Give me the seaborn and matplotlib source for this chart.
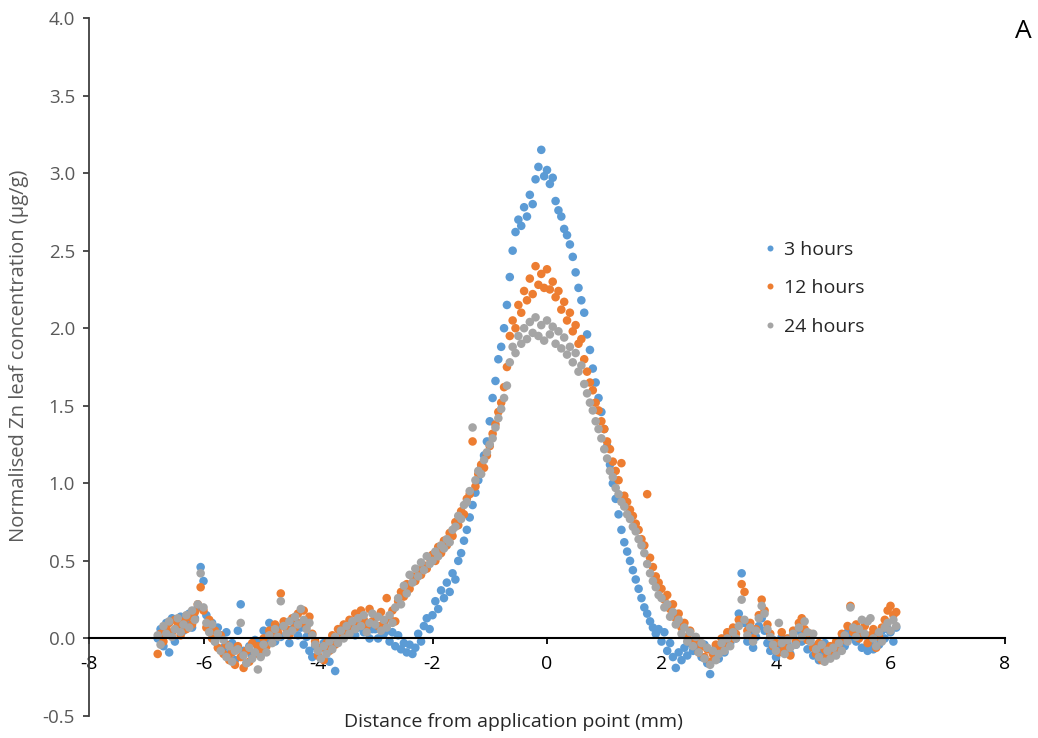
import matplotlib
matplotlib.use("Agg")
import matplotlib.pyplot as plt
import seaborn as sns
import pandas as pd

# ---------------- data ----------------
distance_mm = [
    -6.80, -6.75, -6.70, -6.65, -6.60, -6.55, -6.50, -6.45, -6.40, -6.35, -6.30, -6.25, -6.20, -6.15, -6.10, -6.05,
    -6.00, -5.95, -5.90, -5.85, -5.80, -5.75, -5.70, -5.65, -5.60, -5.55, -5.50, -5.45, -5.40, -5.35, -5.30, -5.25, -5.20, -5.15, -5.10, -5.05,
    -5.00, -4.95, -4.90, -4.85, -4.80, -4.75, -4.70, -4.65, -4.60, -4.55, -4.50, -4.45, -4.40, -4.35, -4.30, -4.25, -4.20, -4.15, -4.10, -4.05,
    -4.00, -3.95, -3.90, -3.85, -3.80, -3.75, -3.70, -3.65, -3.60, -3.55, -3.50, -3.45, -3.40, -3.35, -3.30, -3.25, -3.20, -3.15, -3.10, -3.05,
    -3.00, -2.95, -2.90, -2.85, -2.80, -2.75, -2.70, -2.65, -2.60, -2.55, -2.50, -2.45, -2.40, -2.35, -2.30, -2.25, -2.20, -2.15, -2.10, -2.05,
    -2.00, -1.95, -1.90, -1.85, -1.80, -1.75, -1.70, -1.65, -1.60, -1.55, -1.50, -1.45, -1.40, -1.35, -1.30, -1.25, -1.20, -1.15, -1.10, -1.05,
    -1.00, -0.95, -0.90, -0.85, -0.80, -0.75, -0.70, -0.65, -0.60, -0.55, -0.50, -0.45, -0.40, -0.35, -0.30, -0.25, -0.20, -0.15, -0.10, -0.05,
    0.00, 0.05, 0.10, 0.15, 0.20, 0.25, 0.30, 0.35, 0.40, 0.45, 0.50, 0.55, 0.60, 0.65, 0.70, 0.75, 0.80, 0.85, 0.90, 0.95,
    1.00, 1.05, 1.10, 1.15, 1.20, 1.25, 1.30, 1.35, 1.40, 1.45, 1.50, 1.55, 1.60, 1.65, 1.70, 1.75, 1.80, 1.85, 1.90, 1.95,
    2.00, 2.05, 2.10, 2.15, 2.20, 2.25, 2.30, 2.35, 2.40, 2.45, 2.50, 2.55, 2.60, 2.65, 2.70, 2.75, 2.80, 2.85, 2.90, 2.95,
    3.00, 3.05, 3.10, 3.15, 3.20, 3.25, 3.30, 3.35, 3.40, 3.45, 3.50, 3.55, 3.60, 3.65, 3.70, 3.75, 3.80, 3.85, 3.90, 3.95,
    4.00, 4.05, 4.10, 4.15, 4.20, 4.25, 4.30, 4.35, 4.40, 4.45, 4.50, 4.55, 4.60, 4.65, 4.70, 4.75, 4.80, 4.85, 4.90, 4.95,
    5.00, 5.05, 5.10, 5.15, 5.20, 5.25, 5.30, 5.35, 5.40, 5.45, 5.50, 5.55, 5.60, 5.65, 5.70, 5.75, 5.80, 5.85, 5.90, 5.95,
    6.00, 6.05, 6.10,
]

zn_3h = [
    0.00, 0.06, -0.05, 0.10, -0.09, 0.13, -0.02, 0.08, 0.14, 0.05, 0.10, 0.16, 0.07, 0.13, 0.20, 0.46,
    0.37, 0.15, 0.06, 0.10, -0.02, 0.07, 0.02, -0.06, 0.04, -0.10, -0.03, -0.14, 0.05, 0.22, -0.08, -0.16, -0.05, -0.11, -0.01, -0.07,
    -0.03, 0.05, 0.00, 0.10, 0.04, -0.02, 0.07, 0.01, 0.09, 0.03, -0.03, 0.06, 0.11, 0.02, 0.07, -0.04, 0.01, -0.08, -0.12, -0.05,
    -0.07, -0.13, -0.03, -0.09, -0.15, -0.04, -0.21, 0.01, 0.06, 0.02, 0.08, 0.04, 0.10, 0.02, 0.07, 0.12, 0.04, 0.09, 0.00, 0.06,
    0.06, 0.00, 0.08, 0.03, 0.05, -0.02, 0.04, -0.05, 0.02, -0.07, -0.03, -0.09, -0.04, -0.10, -0.06, 0.03, -0.02, 0.08, 0.13, 0.06,
    0.15, 0.24, 0.19, 0.31, 0.26, 0.36, 0.30, 0.42, 0.38, 0.50, 0.55, 0.63, 0.70, 0.78, 0.86, 0.94, 1.02, 1.10, 1.18, 1.27,
    1.40, 1.55, 1.66, 1.80, 1.88, 2.00, 2.15, 2.33, 2.50, 2.62, 2.70, 2.66, 2.78, 2.72, 2.86, 2.80, 2.96, 3.04, 3.15, 2.98,
    3.02, 2.93, 2.97, 2.82, 2.76, 2.72, 2.64, 2.60, 2.54, 2.46, 2.36, 2.26, 2.18, 2.10, 1.96, 1.86, 1.74, 1.65, 1.55, 1.46,
    1.35, 1.24, 1.12, 1.00, 0.90, 0.80, 0.70, 0.62, 0.56, 0.50, 0.44, 0.38, 0.32, 0.26, 0.20, 0.16, 0.11, 0.07, 0.03, 0.06,
    -0.02, 0.04, -0.08, -0.03, -0.12, -0.19, -0.09, -0.14, -0.06, -0.11, -0.03, -0.08, -0.01, -0.06, -0.12, -0.04, -0.16, -0.23, -0.10, -0.05,
    -0.13, -0.04, -0.09, 0.02, -0.03, 0.06, 0.00, 0.16, 0.42, 0.10, -0.02, 0.04, -0.06, 0.01, 0.08, 0.13, 0.05, -0.03, -0.08, -0.01,
    -0.12, -0.05, 0.01, -0.08, -0.03, -0.10, 0.02, -0.04, 0.05, -0.02, 0.03, -0.07, -0.01, -0.11, -0.05, -0.14, -0.09, -0.03, -0.12, -0.06,
    -0.10, -0.04, -0.08, 0.00, -0.05, 0.04, 0.01, 0.07, -0.02, 0.03, -0.06, 0.02, -0.08, -0.03, -0.07, 0.01, -0.04, 0.05, 0.00, 0.06,
    0.04, -0.02, 0.07,
]

zn_12h = [
    -0.10, 0.03, -0.02, 0.07, 0.10, 0.04, 0.12, 0.08, 0.02, 0.11, 0.06, 0.14, 0.09, 0.17, 0.22, 0.33,
    0.18, 0.07, 0.12, 0.00, 0.05, -0.06, 0.02, -0.10, -0.04, -0.14, -0.09, -0.17, -0.05, -0.12, -0.19, -0.08, -0.15, -0.03, -0.10, -0.05,
    -0.08, 0.00, -0.05, 0.05, 0.01, 0.09, 0.04, 0.29, 0.11, 0.06, 0.02, 0.13, 0.07, 0.16, 0.10, 0.18, 0.08, 0.14, 0.03, -0.02,
    -0.11, -0.06, -0.14, -0.03, -0.08, 0.02, -0.04, 0.06, 0.01, 0.09, 0.04, 0.12, 0.07, 0.16, 0.10, 0.18, 0.12, 0.08, 0.19, 0.11,
    0.14, 0.08, 0.17, 0.10, 0.26, 0.13, 0.18, 0.11, 0.24, 0.30, 0.27, 0.35, 0.32, 0.40, 0.37, 0.44, 0.41, 0.47, 0.45, 0.52,
    0.54, 0.50, 0.59, 0.55, 0.63, 0.60, 0.68, 0.66, 0.75, 0.73, 0.82, 0.80, 0.90, 0.93, 1.27, 0.98, 1.06, 1.12, 1.10, 1.18,
    1.24, 1.32, 1.38, 1.46, 1.52, 1.62, 1.75, 1.95, 2.05, 2.00, 2.15, 2.10, 2.24, 2.18, 2.32, 2.22, 2.40, 2.28, 2.35, 2.26,
    2.38, 2.25, 2.30, 2.20, 2.24, 2.12, 2.17, 2.05, 2.10, 1.98, 2.02, 1.90, 1.93, 1.80, 1.72, 1.65, 1.60, 1.52, 1.47, 1.40,
    1.35, 1.27, 1.22, 1.14, 1.08, 1.02, 1.13, 0.92, 0.88, 0.83, 0.79, 0.74, 0.70, 0.64, 0.60, 0.93, 0.52, 0.46, 0.40, 0.36,
    0.32, 0.25, 0.28, 0.19, 0.22, 0.13, 0.16, 0.07, 0.10, 0.01, 0.05, -0.04, -0.01, -0.09, -0.05, -0.12, -0.07, -0.15, -0.10, -0.04,
    -0.08, 0.00, -0.05, 0.04, -0.01, 0.07, 0.03, 0.12, 0.35, 0.30, 0.05, 0.10, 0.00, 0.06, 0.15, 0.25, 0.18, 0.09, 0.03, -0.05,
    -0.03, -0.09, 0.04, -0.06, 0.00, -0.11, 0.05, -0.02, 0.10, 0.13, 0.06, -0.01, 0.03, -0.06, -0.10, -0.03, -0.14, -0.07, -0.11, -0.05,
    -0.09, -0.02, -0.06, 0.03, -0.01, 0.08, 0.21, 0.04, 0.09, 0.00, 0.05, 0.08, -0.03, 0.02, 0.06, -0.06, 0.01, 0.07, 0.12, 0.18,
    0.21, 0.15, 0.17,
]

zn_24h = [
    0.02, -0.04, 0.08, 0.03, 0.11, 0.01, 0.06, 0.13, 0.04, 0.09, 0.15, 0.07, 0.18, 0.12, 0.22, 0.42,
    0.20, 0.10, 0.04, 0.09, -0.02, 0.03, -0.08, -0.01, -0.12, -0.05, -0.15, -0.08, -0.07, 0.10, -0.11, -0.16, -0.06, -0.13, -0.09, -0.20,
    -0.12, -0.04, -0.09, 0.02, -0.03, 0.06, 0.01, 0.24, 0.08, 0.03, 0.11, 0.05, 0.14, 0.09, 0.19, 0.12, 0.06, 0.10, 0.02, -0.04,
    -0.08, -0.13, -0.05, -0.10, -0.02, -0.07, 0.01, -0.03, 0.05, 0.00, 0.08, 0.03, 0.11, 0.06, 0.13, 0.08, 0.15, 0.04, 0.10, 0.16,
    0.09, 0.14, 0.05, 0.12, 0.07, 0.15, 0.10, 0.20, 0.26, 0.22, 0.34, 0.29, 0.41, 0.36, 0.45, 0.40, 0.49, 0.44, 0.53, 0.48,
    0.50, 0.56, 0.53, 0.60, 0.58, 0.64, 0.62, 0.70, 0.72, 0.79, 0.77, 0.86, 0.88, 0.95, 1.36, 1.02, 1.08, 1.06, 1.15, 1.20,
    1.25, 1.29, 1.36, 1.42, 1.48, 1.55, 1.63, 1.78, 1.88, 1.84, 1.95, 1.90, 2.00, 1.93, 2.04, 1.97, 2.07, 1.95, 2.02, 1.92,
    2.05, 1.96, 2.01, 1.90, 1.98, 1.87, 1.94, 1.83, 1.88, 1.78, 1.84, 1.72, 1.76, 1.64, 1.58, 1.52, 1.47, 1.40, 1.35, 1.29,
    1.22, 1.16, 1.08, 1.04, 0.97, 0.93, 0.88, 0.85, 0.80, 0.77, 0.72, 0.69, 0.64, 0.60, 0.55, 0.48, 0.42, 0.37, 0.33, 0.28,
    0.26, 0.20, 0.22, 0.14, 0.17, 0.09, 0.12, 0.03, 0.07, -0.02, 0.04, -0.05, 0.01, -0.09, -0.03, -0.13, -0.06, -0.17, -0.08, -0.14,
    -0.10, -0.03, -0.08, 0.00, -0.05, 0.04, 0.00, 0.08, 0.25, 0.12, 0.02, 0.07, -0.02, 0.05, 0.13, 0.21, 0.16, 0.06, 0.01, -0.04,
    -0.08, 0.10, -0.03, -0.10, -0.01, -0.06, 0.03, -0.04, 0.07, 0.01, 0.11, 0.04, -0.02, 0.03, -0.07, -0.12, -0.04, -0.15, -0.08, -0.13,
    -0.06, -0.11, -0.03, -0.08, 0.02, -0.02, 0.20, 0.07, 0.01, 0.06, 0.12, 0.03, 0.11, 0.13, 0.00, -0.05, 0.04, -0.02, 0.07, 0.10,
    0.05, 0.12, 0.08,
]

series_labels = ["3 hours", "12 hours", "24 hours"]
series_colors = ["#5B9BD5", "#ED7D31", "#A5A5A5"]
x_ticks = [-8, -6, -4, -2, 0, 2, 4, 6, 8]
y_ticks = [-0.5, 0.0, 0.5, 1.0, 1.5, 2.0, 2.5, 3.0, 3.5, 4.0]

# ---------------- figure ----------------
sns.set_theme(style="white")
plt.rcParams["font.family"] = ["Open Sans", "DejaVu Sans"]

frames = []
for lab, vals in zip(series_labels, [zn_3h, zn_12h, zn_24h]):
    frames.append(pd.DataFrame({"distance": distance_mm, "zn": vals, "series": lab}))
df = pd.concat(frames, ignore_index=True)

fig = plt.figure(figsize=(10.38, 7.38), dpi=100)
ax = fig.add_axes([89 / 1038, 1 - 716 / 738, (1005 - 89) / 1038, (716 - 18) / 738])

sns.scatterplot(data=df, x="distance", y="zn", hue="series", hue_order=series_labels,
                palette=series_colors, s=38, linewidth=0, alpha=1.0, ax=ax, legend=True)

ax.set_xlim(-8, 8)
ax.set_ylim(-0.5, 4.0)
ax.set_xticks(x_ticks)
ax.set_xticklabels([str(t) for t in x_ticks])
ax.set_yticks(y_ticks)
ax.set_yticklabels([f"{t:.1f}" for t in y_ticks])

for s in ["top", "right"]:
    ax.spines[s].set_visible(False)
ax.spines["bottom"].set_position(("data", 0))
ax.spines["bottom"].set_color("#000000")
ax.spines["bottom"].set_linewidth(1.5)
ax.spines["left"].set_color("#404040")
ax.spines["left"].set_linewidth(1.3)

ax.tick_params(axis="x", direction="out", length=4, width=1.3, color="#000000",
               labelsize=14, labelcolor="#000000", pad=8, bottom=True)
ax.tick_params(axis="y", direction="out", length=4, width=1.3, color="#404040",
               labelsize=13.5, labelcolor="#595959", pad=6, left=True)

ax.set_xlabel("Distance from application point (mm)", fontsize=14, color="#262626")
ax.xaxis.set_label_coords(0.463, 0.004)
ax.set_ylabel("Normalised Zn leaf concentration (µg/g)", fontsize=14.5, color="#595959")
ax.yaxis.set_label_coords(-0.066, 0.516)

handles, labels = ax.get_legend_handles_labels()
ax.legend(handles, labels, loc="upper left", bbox_to_anchor=(0.73, 0.692), frameon=False,
          fontsize=14, labelspacing=1.05, handlelength=0.5, handletextpad=0.45,
          markerscale=0.7, borderaxespad=0)

fig.text(1023 / 1038, 1 - 31 / 738, "A", fontsize=19, ha="center", va="center", color="#000000")

fig.savefig("out.png", dpi=100)
